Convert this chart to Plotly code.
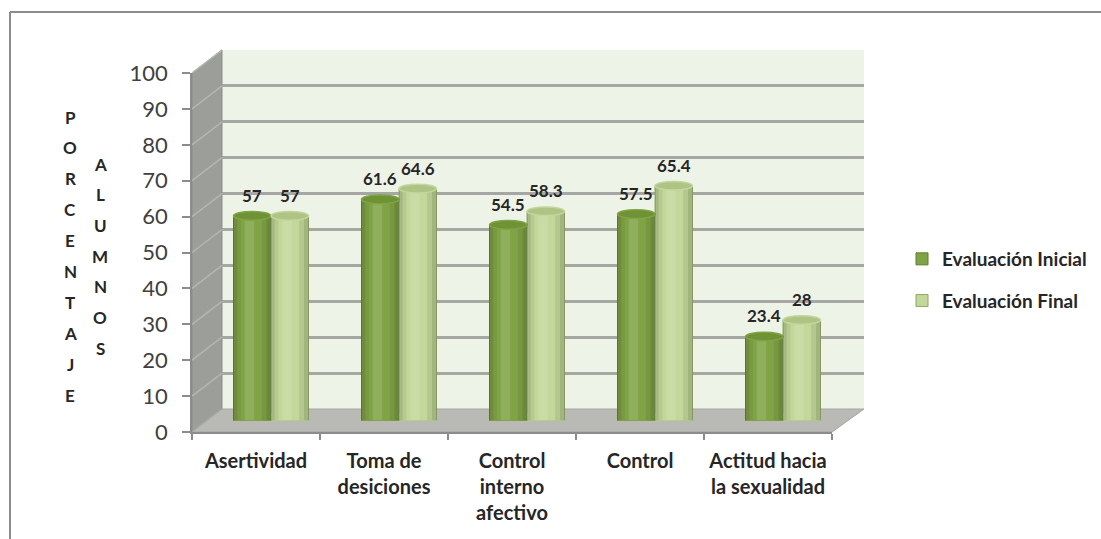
import plotly.graph_objects as go

categories = ["Asertividad", "Toma de desiciones", "Control interno afectivo", "Control", "Actitud hacia la sexualidad"]
tick_labels = ["Asertividad", "Toma de<br>desiciones", "Control<br>interno<br>afectivo", "Control", "Actitud hacia<br>la sexualidad"]
inicial = [57, 61.6, 54.5, 57.5, 23.4]
final = [57, 64.6, 58.3, 65.4, 28]
inicial_labels = ["57", "61.6", "54.5", "57.5", "23.4"]
final_labels = ["57", "64.6", "58.3", "65.4", "28"]
y_ticks = list(range(0, 101, 10))

W, H = 1101, 539
FONT = "Lato"

def px(x):
    return x / W

def py(y):
    return 1 - y / H

# geometry (pixels)
FX0, FX1, FY0, FY100 = 192, 832, 432, 73      # front
DX, DY = 30, -23                               # depth offset
SCALE = (FY0 - FY100) / 100.0

def fy(v):
    return FY0 - SCALE * v

C_INI = "#80A445"
C_INI_EDGE = "#5E7D2A"
C_INI_TOP = "#6E9234"
C_FIN = "#C2D799"
C_FIN_EDGE = "#8EA863"
C_FIN_TOP = "#AEC385"
TXT = "#262626"

fig = go.Figure()

bargap = 0.414
bw = (1 - bargap) / 2

# back wall grid subplot (drawn first, x/y)
fig.add_trace(go.Scatter(x=[0, 1], y=[0, 100], mode="markers", marker=dict(opacity=0),
                         xaxis="x", yaxis="y", showlegend=False, hoverinfo="skip"))
# front axes subplot (x2/y2)
fig.add_trace(go.Scatter(x=[0, 5], y=[0, 100], mode="markers", marker=dict(opacity=0),
                         xaxis="x2", yaxis="y2", showlegend=False, hoverinfo="skip"))
# bars at mid depth (x3/y3), drawn last
fig.add_trace(go.Bar(x=categories, y=inicial, name="Evaluación Inicial",
                     marker=dict(color=C_INI, line=dict(color=C_INI_EDGE, width=1)),
                     xaxis="x3", yaxis="y3", legendgroup="a"))
fig.add_trace(go.Bar(x=categories, y=final, name="Evaluación Final",
                     marker=dict(color=C_FIN, line=dict(color=C_FIN_EDGE, width=1)),
                     xaxis="x3", yaxis="y3", legendgroup="b"))

shapes = []
# back wall
shapes.append(dict(type="rect", xref="x domain", yref="y domain", x0=0, x1=1, y0=0, y1=1,
                   fillcolor="#EEF3E8", line=dict(width=0), layer="below"))
# side wall
bx = FX0 + DX
side_path = "M {} {} L {} {} L {} {} L {} {} Z".format(
    px(FX0), py(fy(0)), px(bx), py(fy(0) + DY), px(bx), py(fy(100) + DY), px(FX0), py(fy(100)))
shapes.append(dict(type="path", xref="paper", yref="paper", path=side_path,
                   fillcolor="#9C9E99", line=dict(color="#8A8C88", width=1), layer="below"))
for v in y_ticks:
    shapes.append(dict(type="line", xref="paper", yref="paper",
                       x0=px(FX0), y0=py(fy(v)), x1=px(bx), y1=py(fy(v) + DY),
                       line=dict(color="#B4B6B2", width=1.5), layer="below"))
# floor
floor_path = "M {} {} L {} {} L {} {} L {} {} Z".format(
    px(FX0), py(FY0), px(FX1), py(FY0), px(FX1 + DX + 2), py(FY0 + DY), px(bx), py(FY0 + DY))
shapes.append(dict(type="path", xref="paper", yref="paper", path=floor_path,
                   fillcolor="#B9BAB6", line=dict(color="#A3A4A0", width=1), layer="between"))

# cylinder shading and caps
eh = 1.2
for i in range(len(categories)):
    for off, val, top, body, edge in ((-bw / 2, inicial[i], C_INI_TOP, C_INI, C_INI_EDGE),
                                      (bw / 2, final[i], C_FIN_TOP, C_FIN, C_FIN_EDGE)):
        cx = i + off
        left = cx - bw / 2
        shapes.append(dict(type="circle", xref="x3", yref="y3",
                           x0=left, x1=left + bw, y0=-eh, y1=eh,
                           fillcolor=body, line=dict(color=edge, width=1), layer="above"))
        shapes.append(dict(type="rect", xref="x3", yref="y3",
                           x0=left + 0.004, x1=left + bw - 0.004, y0=0, y1=2,
                           fillcolor=body, line=dict(width=0), layer="above"))
        for a, b, col in ((0.0, 0.10, "rgba(0,0,0,0.14)"),
                          (0.10, 0.20, "rgba(0,0,0,0.06)"),
                          (0.30, 0.55, "rgba(255,255,255,0.13)"),
                          (0.75, 0.88, "rgba(0,0,0,0.07)"),
                          (0.88, 1.0, "rgba(0,0,0,0.16)")):
            shapes.append(dict(type="rect", xref="x3", yref="y3",
                               x0=left + a * bw, x1=left + b * bw, y0=0, y1=val,
                               fillcolor=col, line=dict(width=0), layer="above"))
        shapes.append(dict(type="circle", xref="x3", yref="y3",
                           x0=left, x1=left + bw, y0=val - eh, y1=val + eh,
                           fillcolor=top, line=dict(color=body, width=1.5), layer="above"))

# outer frame
shapes.append(dict(type="line", xref="paper", yref="paper", x0=px(10), x1=1, y0=py(12), y1=py(12),
                   line=dict(color="#8C8C8C", width=2)))
shapes.append(dict(type="line", xref="paper", yref="paper", x0=px(10), x1=px(10), y0=py(12), y1=0,
                   line=dict(color="#8C8C8C", width=2)))

annotations = []
for i in range(len(categories)):
    for off, val, lab in ((-bw / 2, inicial[i], inicial_labels[i]), (bw / 2, final[i], final_labels[i])):
        annotations.append(dict(x=i + off, y=val, xref="x3", yref="y3", text=lab, showarrow=False,
                                yanchor="bottom", yshift=8,
                                font=dict(family=FONT, size=17, color=TXT, weight="bold")))

for j, ch in enumerate("PORCENTAJE"):
    annotations.append(dict(x=px(70), y=py(117 + j * 30.9), xref="paper", yref="paper", text=ch,
                            xanchor="center", yanchor="middle", showarrow=False,
                            font=dict(family=FONT, size=17, color=TXT, weight="bold")))
for j, ch in enumerate("ALUMNOS"):
    annotations.append(dict(x=px(100), y=py(164 + j * 30.7), xref="paper", yref="paper", text=ch,
                            xanchor="center", yanchor="middle", showarrow=False,
                            font=dict(family=FONT, size=17, color=TXT, weight="bold")))

noax = dict(showticklabels=False, showgrid=False, zeroline=False, showline=False, ticks="", automargin=False)

fig.update_layout(
    width=W, height=H, autosize=False,
    margin=dict(l=0, r=0, t=0, b=0, pad=0, autoexpand=False),
    paper_bgcolor="white", plot_bgcolor="rgba(0,0,0,0)",
    barmode="group", bargap=bargap, bargroupgap=0,
    shapes=shapes, annotations=annotations,
    legend=dict(x=px(902), y=py(240), xanchor="left", yanchor="top",
                font=dict(family=FONT, size=19, color=TXT, weight="bold"),
                tracegroupgap=14, itemwidth=30, bgcolor="rgba(0,0,0,0)"),
    # back wall (grid)
    xaxis=dict(domain=[px(FX0 + DX), px(864)], range=[0, 1], anchor="y", **noax),
    yaxis=dict(domain=[py(FY0 + DY), py(FY100 + DY)], range=[0, 100], anchor="x", tickvals=y_ticks,
               showticklabels=False, showgrid=True, gridcolor="#A6A7A4", gridwidth=2.5, automargin=False,
               zeroline=False, showline=False, ticks=""),
    # front axes
    xaxis2=dict(domain=[px(FX0), px(FX1)], range=[0, 5], anchor="y2",
                tickvals=[0.5, 1.5, 2.5, 3.5, 4.5], ticktext=tick_labels, ticks="",
                tickfont=dict(family=FONT, size=20, color=TXT, weight="bold"),
                ticklabelstandoff=10, automargin=False,
                minor=dict(tickvals=[0, 1, 2, 3, 4, 5], ticks="outside", ticklen=6, tickcolor="#8C8C8C", tickwidth=1.5),
                showline=True, linecolor="#8C8C8C", linewidth=1.5, showgrid=False, zeroline=False),
    yaxis2=dict(domain=[py(FY0), py(FY100)], range=[0, 100], anchor="x2", tickvals=y_ticks,
                ticks="outside", ticklen=8, tickcolor="#8C8C8C", tickwidth=1.5,
                tickfont=dict(family=FONT, size=22, color="#404040"),
                ticklabelstandoff=10, automargin=False,
                showline=True, linecolor="#8C8C8C", linewidth=1.5, showgrid=False, zeroline=False),
    # bars (mid depth)
    xaxis3=dict(domain=[px(FX0 + DX / 2), px(FX1 + DX / 2)], range=[-0.5, 4.5], type="category",
                anchor="y3", **noax),
    yaxis3=dict(domain=[py(FY0 + DY / 2), py(FY100 + DY / 2)], range=[0, 100], anchor="x3", **noax),
)

fig.write_html("out.html")
